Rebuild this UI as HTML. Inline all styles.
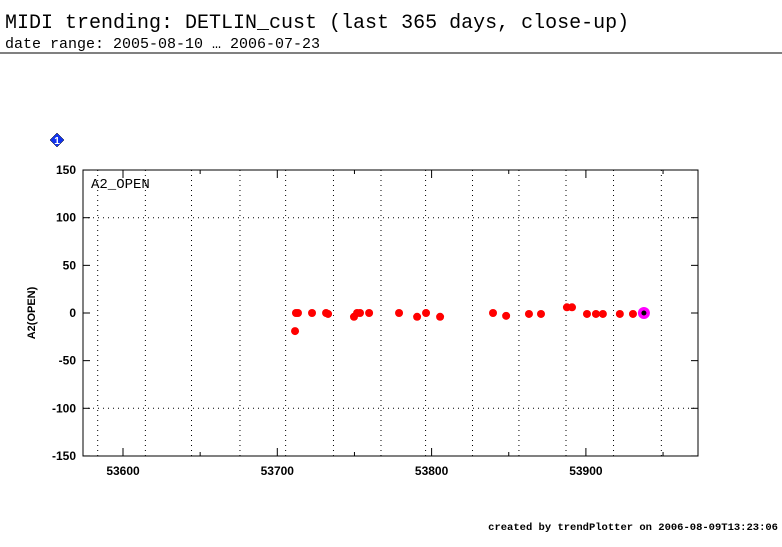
<!DOCTYPE html>
<html><head><meta charset="utf-8"><style>
body{margin:0;background:#fff;width:782px;height:542px;overflow:hidden}
</style></head><body>
<svg width="782" height="542" xmlns="http://www.w3.org/2000/svg" font-family="Liberation Mono, monospace">
<text x="5" y="28" font-size="20">MIDI trending: DETLIN_cust (last 365 days, close-up)</text>
<text x="5" y="48" font-size="15">date range: 2005-08-10 … 2006-07-23</text>
<line x1="0" y1="53" x2="782" y2="53" stroke="#000"/>
<g><polygon points="57,133 64,140 57,147 50,140" fill="#1133ee" stroke="#000" stroke-width="0.5"/><text x="57" y="144" font-size="10" text-anchor="middle" font-family="Liberation Sans, sans-serif" font-weight="bold" fill="#fff">1</text></g>
<g id="grid"></g>
<rect x="83" y="170" width="615" height="286" fill="none" stroke="#000"/>
<text x="91" y="188" font-size="14">A2_OPEN</text>
<text transform="translate(35,313) rotate(-90)" font-size="11" font-family="Liberation Sans, sans-serif" font-weight="bold" text-anchor="middle">A2(OPEN)</text>
<g id="axes" font-family="Liberation Sans, sans-serif" font-size="12" font-weight="bold"></g>
<g id="pts"></g>
<text x="778" y="530" font-size="10.5" font-family="Liberation Mono, monospace" font-weight="bold" text-anchor="end">created by trendPlotter on 2006-08-09T13:23:06</text>
</svg>
<script>
const xTicks=[53600,53700,53800,53900];
const xMinor=[53650,53750,53850,53950];
const yTicks=[150,100,50,0,-50,-100,-150];
const vGrid=[53583.6,53614.5,53644.4,53675.8,53705.4,53736.4,53767.2,53796.1,53826.5,53856.6,53887.1,53917.9,53948.9];
const hGrid=[100,-100];
const mjd=[53711.5,53712.1,53713.4,53722.5,53731.6,53732.9,53749.7,53751.7,53753.6,53759.5,53778.9,53790.6,53796.4,53805.5,53839.8,53848.3,53863.1,53870.9,53887.7,53891,53900.7,53906.5,53911,53922,53930.5];
const vals=[-19,0,0,0,0,-1,-4,0,0,0,0,-4,0,-4,0,-3,-1,-1,6,6,-1,-1,-1,-1,-1];
const lastMjd=[53937.6];
const lastVal=[0];
const NS='http://www.w3.org/2000/svg';
const X=v=>123+(v-53600)*1.543;
const Y=v=>313-v*0.953;
function mk(t,a,p){const e=document.createElementNS(NS,t);for(const k in a)e.setAttribute(k,a[k]);p.appendChild(e);return e;}
const g=document.getElementById('grid'),ax=document.getElementById('axes'),pts=document.getElementById('pts');
vGrid.forEach(v=>{const l=mk('line',{x1:X(v),x2:X(v),y1:170,y2:456,stroke:'#000','stroke-dasharray':'1,4'},g);

});
hGrid.forEach(v=>{const l=mk('line',{x1:83,x2:698,y1:Y(v),y2:Y(v),stroke:'#000','stroke-dasharray':'1,4'},g);

});
yTicks.forEach(v=>{const y=Y(v);mk('line',{x1:83,x2:90,y1:y,y2:y,stroke:'#000'},ax);mk('line',{x1:691,x2:698,y1:y,y2:y,stroke:'#000'},ax);
const t=mk('text',{x:76,y:y+4,'text-anchor':'end'},ax);t.textContent=v;

});
xMinor.forEach(v=>{const x=X(v);mk('line',{x1:x,x2:x,y1:452,y2:456,stroke:'#000'},ax);mk('line',{x1:x,x2:x,y1:170,y2:174,stroke:'#000'},ax);});
xTicks.forEach(v=>{const x=X(v);mk('line',{x1:x,x2:x,y1:448,y2:456,stroke:'#000'},ax);mk('line',{x1:x,x2:x,y1:170,y2:178,stroke:'#000'},ax);
const t=mk('text',{x:x,y:475,'text-anchor':'middle'},ax);t.textContent=v;

});
mjd.forEach((m,i)=>{const c=mk('circle',{cx:X(m),cy:Y(vals[i]),r:4,fill:'#f00'},pts);

});
lastMjd.forEach((m,i)=>{const c=mk('circle',{cx:X(m),cy:Y(lastVal[i]),r:6,fill:'#f0f'},pts);


mk('circle',{cx:X(m),cy:Y(lastVal[i]),r:2.5,fill:'#000'},pts);});
</script>
</body></html>
